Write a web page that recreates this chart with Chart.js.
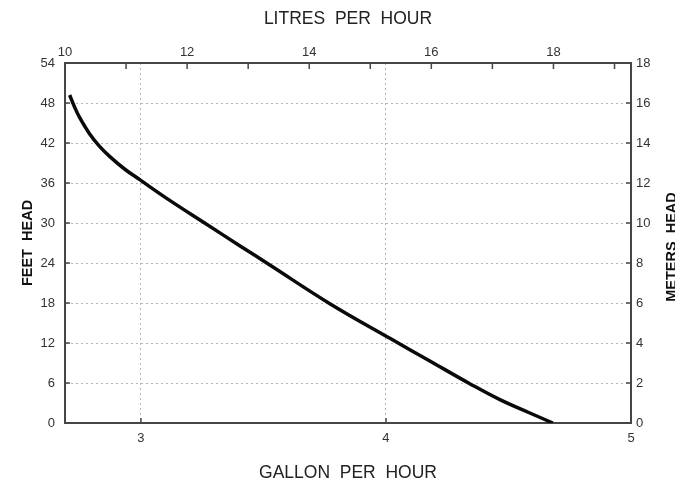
<!DOCTYPE html>
<html>
<head>
<meta charset="utf-8">
<script src="https://cdn.jsdelivr.net/npm/chart.js@4/dist/chart.umd.min.js"></script>
<style>
    html, body { margin: 0; padding: 0; background: #ffffff; }
    canvas { display: block; }
</style>
</head>
<body>
<canvas id="pumpCurve" width="675" height="486"></canvas>
<script>
// pump performance curve: flow (gallons per hour) vs head (feet)
const gallonsPerHour = [2.709, 2.729, 2.750, 2.790, 2.831, 2.872, 2.933, 2.995, 3.105, 3.260, 3.403, 3.526, 3.771, 4.016, 4.179, 4.342, 4.465, 4.587, 4.681];
const feetHead = [49.2, 47.4, 45.8, 43.4, 41.5, 40.0, 38.1, 36.5, 33.7, 30.0, 26.6, 23.7, 17.9, 12.7, 9.3, 5.9, 3.5, 1.5, 0];

const gphTicks = [3, 4, 5];
const lphTicks = [10, 11, 12, 13, 14, 15, 16, 17, 18, 19];
const feetTicks = [0, 6, 12, 18, 24, 30, 36, 42, 48, 54];
const meterTicks = [0, 2, 4, 6, 8, 10, 12, 14, 16, 18];

const fontFamily = "'Liberation Sans', Arial, Helvetica, sans-serif";
const frameColor = "#4a4544";
const gridColor = "#b5b5b5";
const labelColor = "#333333";

function fixedTicks(values) {
    return (scale) => {
        scale.ticks = values.map((value) => ({ value }));
    };
}

function fixedSize(prop, size) {
    return (scale) => {
        scale[prop] = size;
    };
}

function innerGrid(min, max) {
    return (ctx) => {
        const v = ctx.tick ? ctx.tick.value : null;
        return (v === min || v === max) ? "rgba(0,0,0,0)" : gridColor;
    };
}

// tick marks pointing into the plot on all four sides
const inwardTicks = {
    id: "inwardTicks",
    afterDraw(chart) {
        const { ctx, chartArea } = chart;
        ctx.save();
        ctx.strokeStyle = frameColor;
        ctx.lineWidth = 1.5;
        Object.values(chart.scales).forEach((scale) => {
            const len = scale.position === "top" ? 6 : 5;
            scale.ticks.forEach((tick) => {
                const p = scale.getPixelForValue(tick.value);
                ctx.beginPath();
                if (scale.position === "bottom") {
                    ctx.moveTo(p, chartArea.bottom);
                    ctx.lineTo(p, chartArea.bottom - len);
                } else if (scale.position === "top") {
                    ctx.moveTo(p, chartArea.top);
                    ctx.lineTo(p, chartArea.top + len);
                } else if (scale.position === "left") {
                    ctx.moveTo(chartArea.left, p);
                    ctx.lineTo(chartArea.left + len, p);
                } else {
                    ctx.moveTo(chartArea.right, p);
                    ctx.lineTo(chartArea.right - len, p);
                }
                ctx.stroke();
            });
        });
        ctx.restore();
    }
};

// right-hand axis title, reading bottom to top like the left one
const rightTitle = {
    id: "rightTitle",
    afterDraw(chart) {
        const { ctx, chartArea } = chart;
        ctx.save();
        ctx.translate(chart.width - 3, (chartArea.top + chartArea.bottom) / 2 + 4);
        ctx.rotate(-Math.PI / 2);
        ctx.font = `bold 14.5px ${fontFamily}`;
        ctx.fillStyle = "#111111";
        ctx.textAlign = "center";
        ctx.textBaseline = "middle";
        ctx.fillText("METERS  HEAD", 0, 0);
        ctx.restore();
    }
};

const tickFont = { family: fontFamily, size: 13 };

new Chart(document.getElementById("pumpCurve"), {
    type: "line",
    data: {
        datasets: [{
            data: gallonsPerHour.map((x, i) => ({ x, y: feetHead[i] })),
            borderColor: "#0a0a0a",
            borderWidth: 3.5,
            pointRadius: 0,
            fill: false,
            tension: 0.4,
            xAxisID: "x",
            yAxisID: "y"
        }]
    },
    options: {
        responsive: false,
        animation: false,
        layout: { padding: 0 },
        plugins: {
            legend: { display: false },
            tooltip: { enabled: false }
        },
        scales: {
            x: {
                type: "linear",
                position: "bottom",
                min: 2.69,
                max: 5,
                afterBuildTicks: fixedTicks(gphTicks),
                afterFit: fixedSize("height", 63),
                grid: { color: innerGrid(2.69, 5), drawTicks: false, lineWidth: 1 },
                border: { display: true, color: frameColor, width: 2, dash: [2, 3] },
                ticks: { font: tickFont, color: labelColor, padding: 7.5, callback: (v) => String(v) },
                title: {
                    display: true,
                    text: "GALLON  PER  HOUR",
                    font: { family: fontFamily, size: 17.5 },
                    color: "#222222",
                    padding: { top: 0, bottom: 2 }
                }
            },
            x2: {
                type: "linear",
                position: "top",
                min: 10,
                max: 19.27,
                afterBuildTicks: fixedTicks(lphTicks),
                afterFit: fixedSize("height", 63),
                grid: { display: false, drawTicks: false },
                border: { display: true, color: frameColor, width: 2 },
                ticks: {
                    font: tickFont,
                    color: labelColor,
                    padding: 3,
                    callback: (v) => (v % 2 === 0 ? String(v) : "")
                },
                title: {
                    display: true,
                    text: "LITRES  PER  HOUR",
                    font: { family: fontFamily, size: 17.5 },
                    color: "#222222",
                    padding: { top: 9, bottom: 0 }
                }
            },
            y: {
                type: "linear",
                position: "left",
                min: 0,
                max: 54,
                afterBuildTicks: fixedTicks(feetTicks),
                afterFit: fixedSize("width", 65),
                grid: { color: innerGrid(0, 54), drawTicks: false, lineWidth: 1 },
                border: { display: true, color: frameColor, width: 2, dash: [2, 3] },
                ticks: { font: tickFont, color: labelColor, padding: 10 },
                title: {
                    display: true,
                    text: "FEET  HEAD",
                    font: { family: fontFamily, size: 14.5, weight: "bold" },
                    color: "#111111",
                    padding: { top: 19, bottom: 0 }
                }
            },
            y2: {
                type: "linear",
                position: "right",
                min: 0,
                max: 18,
                afterBuildTicks: fixedTicks(meterTicks),
                afterFit: fixedSize("width", 44),
                grid: { display: false, drawTicks: false },
                border: { display: true, color: frameColor, width: 2 },
                ticks: { font: tickFont, color: labelColor, padding: 5 }
            }
        }
    },
    plugins: [inwardTicks, rightTitle]
});
</script>
</body>
</html>
